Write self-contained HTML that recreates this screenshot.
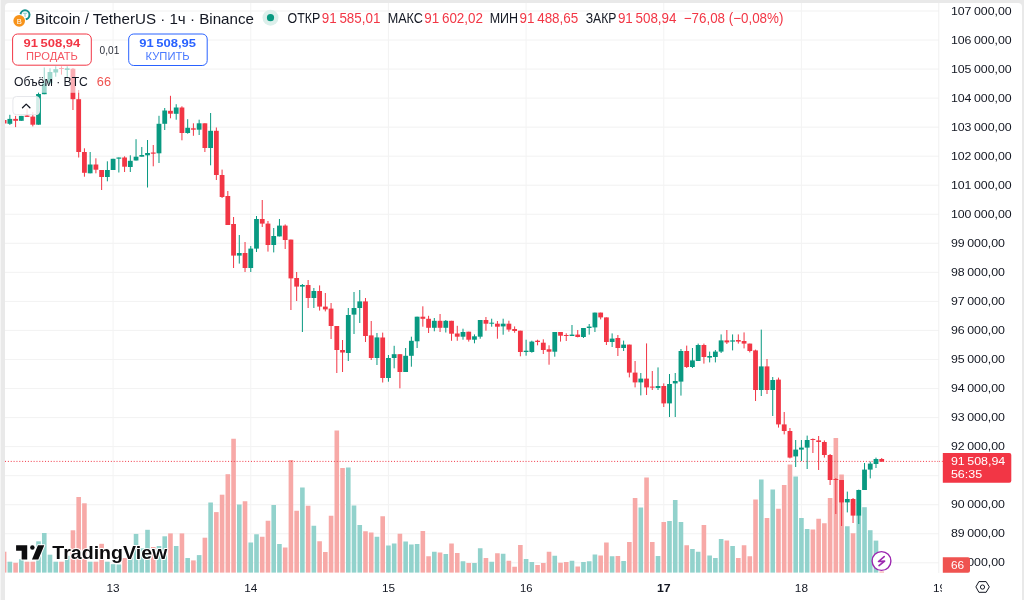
<!DOCTYPE html><html><head><meta charset="utf-8"><style>
html,body{margin:0;padding:0;width:1024px;height:600px;overflow:hidden;background:#e9e9e9;}
svg{position:absolute;left:0;top:0;display:block;will-change:transform}
text{font-family:"Liberation Sans",sans-serif;}
</style></head><body>
<svg width="1024" height="600" viewBox="0 0 1024 600">
<defs><clipPath id="pane"><rect x="5" y="3" width="934" height="570"/></clipPath><clipPath id="taxis"><rect x="5" y="573" width="934" height="27"/></clipPath></defs>
<rect x="0" y="0" width="1" height="600" fill="#f5f5f5"/>
<path d="M5,7 a4,4 0 0 1 4,-4 H1018 a4,4 0 0 1 4,4 V600 H5 Z" fill="#fff"/>
<g clip-path="url(#pane)">
<rect x="5" y="562.21" width="934" height="1.1" fill="#f3f3f3"/>
<rect x="5" y="533.17" width="934" height="1.1" fill="#f3f3f3"/>
<rect x="5" y="504.13" width="934" height="1.1" fill="#f3f3f3"/>
<rect x="5" y="475.09" width="934" height="1.1" fill="#f3f3f3"/>
<rect x="5" y="446.05" width="934" height="1.1" fill="#f3f3f3"/>
<rect x="5" y="417.01" width="934" height="1.1" fill="#f3f3f3"/>
<rect x="5" y="387.97" width="934" height="1.1" fill="#f3f3f3"/>
<rect x="5" y="358.93" width="934" height="1.1" fill="#f3f3f3"/>
<rect x="5" y="329.89" width="934" height="1.1" fill="#f3f3f3"/>
<rect x="5" y="300.85" width="934" height="1.1" fill="#f3f3f3"/>
<rect x="5" y="271.81" width="934" height="1.1" fill="#f3f3f3"/>
<rect x="5" y="242.77" width="934" height="1.1" fill="#f3f3f3"/>
<rect x="5" y="213.73" width="934" height="1.1" fill="#f3f3f3"/>
<rect x="5" y="184.69" width="934" height="1.1" fill="#f3f3f3"/>
<rect x="5" y="155.65" width="934" height="1.1" fill="#f3f3f3"/>
<rect x="5" y="126.61" width="934" height="1.1" fill="#f3f3f3"/>
<rect x="5" y="97.57" width="934" height="1.1" fill="#f3f3f3"/>
<rect x="5" y="68.53" width="934" height="1.1" fill="#f3f3f3"/>
<rect x="5" y="39.49" width="934" height="1.1" fill="#f3f3f3"/>
<rect x="5" y="10.45" width="934" height="1.1" fill="#f3f3f3"/>
<rect x="112.60" y="3" width="1" height="570" fill="#f3f3f3"/>
<rect x="250.26" y="3" width="1" height="570" fill="#f3f3f3"/>
<rect x="387.92" y="3" width="1" height="570" fill="#f3f3f3"/>
<rect x="525.58" y="3" width="1" height="570" fill="#f3f3f3"/>
<rect x="663.24" y="3" width="1" height="570" fill="#f3f3f3"/>
<rect x="800.90" y="3" width="1" height="570" fill="#f3f3f3"/>
<rect x="1.82" y="551.70" width="4.6" height="20.90" fill="#f7a9a7"/>
<rect x="7.55" y="561.70" width="4.6" height="10.90" fill="#92d2cc"/>
<rect x="13.29" y="562.80" width="4.6" height="9.80" fill="#f7a9a7"/>
<rect x="19.02" y="559.20" width="4.6" height="13.40" fill="#92d2cc"/>
<rect x="24.76" y="561.70" width="4.6" height="10.90" fill="#f7a9a7"/>
<rect x="30.50" y="561.70" width="4.6" height="10.90" fill="#f7a9a7"/>
<rect x="36.23" y="541.30" width="4.6" height="31.30" fill="#92d2cc"/>
<rect x="41.97" y="533.00" width="4.6" height="39.60" fill="#92d2cc"/>
<rect x="47.70" y="554.70" width="4.6" height="17.90" fill="#92d2cc"/>
<rect x="53.44" y="561.70" width="4.6" height="10.90" fill="#92d2cc"/>
<rect x="59.18" y="561.70" width="4.6" height="10.90" fill="#f7a9a7"/>
<rect x="64.91" y="555.80" width="4.6" height="16.80" fill="#92d2cc"/>
<rect x="70.65" y="530.30" width="4.6" height="42.30" fill="#f7a9a7"/>
<rect x="76.38" y="497.00" width="4.6" height="75.60" fill="#f7a9a7"/>
<rect x="82.12" y="503.30" width="4.6" height="69.30" fill="#f7a9a7"/>
<rect x="87.86" y="561.70" width="4.6" height="10.90" fill="#92d2cc"/>
<rect x="93.59" y="561.70" width="4.6" height="10.90" fill="#f7a9a7"/>
<rect x="99.33" y="543.80" width="4.6" height="28.80" fill="#f7a9a7"/>
<rect x="105.06" y="561.70" width="4.6" height="10.90" fill="#92d2cc"/>
<rect x="110.80" y="564.20" width="4.6" height="8.40" fill="#92d2cc"/>
<rect x="116.54" y="564.50" width="4.6" height="8.10" fill="#92d2cc"/>
<rect x="122.27" y="558.00" width="4.6" height="14.60" fill="#f7a9a7"/>
<rect x="128.01" y="553.20" width="4.6" height="19.40" fill="#92d2cc"/>
<rect x="133.74" y="533.90" width="4.6" height="38.70" fill="#92d2cc"/>
<rect x="139.48" y="548.40" width="4.6" height="24.20" fill="#92d2cc"/>
<rect x="145.22" y="529.80" width="4.6" height="42.80" fill="#92d2cc"/>
<rect x="150.95" y="547.00" width="4.6" height="25.60" fill="#f7a9a7"/>
<rect x="156.69" y="546.00" width="4.6" height="26.60" fill="#92d2cc"/>
<rect x="162.42" y="536.30" width="4.6" height="36.30" fill="#92d2cc"/>
<rect x="168.16" y="533.40" width="4.6" height="39.20" fill="#f7a9a7"/>
<rect x="173.90" y="546.00" width="4.6" height="26.60" fill="#92d2cc"/>
<rect x="179.63" y="533.40" width="4.6" height="39.20" fill="#f7a9a7"/>
<rect x="185.37" y="558.00" width="4.6" height="14.60" fill="#92d2cc"/>
<rect x="191.10" y="560.40" width="4.6" height="12.20" fill="#f7a9a7"/>
<rect x="196.84" y="555.10" width="4.6" height="17.50" fill="#92d2cc"/>
<rect x="202.58" y="537.70" width="4.6" height="34.90" fill="#f7a9a7"/>
<rect x="208.31" y="502.50" width="4.6" height="70.10" fill="#92d2cc"/>
<rect x="214.05" y="512.10" width="4.6" height="60.50" fill="#f7a9a7"/>
<rect x="219.78" y="494.70" width="4.6" height="77.90" fill="#f7a9a7"/>
<rect x="225.52" y="474.20" width="4.6" height="98.40" fill="#f7a9a7"/>
<rect x="231.26" y="438.75" width="4.6" height="133.85" fill="#f7a9a7"/>
<rect x="236.99" y="504.50" width="4.6" height="68.10" fill="#92d2cc"/>
<rect x="242.73" y="501.25" width="4.6" height="71.35" fill="#f7a9a7"/>
<rect x="248.46" y="542.50" width="4.6" height="30.10" fill="#92d2cc"/>
<rect x="254.20" y="534.25" width="4.6" height="38.35" fill="#92d2cc"/>
<rect x="259.94" y="536.75" width="4.6" height="35.85" fill="#f7a9a7"/>
<rect x="265.67" y="520.75" width="4.6" height="51.85" fill="#f7a9a7"/>
<rect x="271.41" y="505.00" width="4.6" height="67.60" fill="#92d2cc"/>
<rect x="277.14" y="544.00" width="4.6" height="28.60" fill="#92d2cc"/>
<rect x="282.88" y="547.50" width="4.6" height="25.10" fill="#f7a9a7"/>
<rect x="288.62" y="460.00" width="4.6" height="112.60" fill="#f7a9a7"/>
<rect x="294.35" y="510.75" width="4.6" height="61.85" fill="#f7a9a7"/>
<rect x="300.09" y="487.50" width="4.6" height="85.10" fill="#92d2cc"/>
<rect x="305.82" y="505.75" width="4.6" height="66.85" fill="#f7a9a7"/>
<rect x="311.56" y="525.75" width="4.6" height="46.85" fill="#92d2cc"/>
<rect x="317.30" y="541.25" width="4.6" height="31.35" fill="#f7a9a7"/>
<rect x="323.03" y="552.00" width="4.6" height="20.60" fill="#f7a9a7"/>
<rect x="328.77" y="515.75" width="4.6" height="56.85" fill="#f7a9a7"/>
<rect x="334.50" y="430.50" width="4.6" height="142.10" fill="#f7a9a7"/>
<rect x="340.24" y="468.00" width="4.6" height="104.60" fill="#f7a9a7"/>
<rect x="345.98" y="467.50" width="4.6" height="105.10" fill="#92d2cc"/>
<rect x="351.71" y="505.50" width="4.6" height="67.10" fill="#92d2cc"/>
<rect x="357.45" y="525.00" width="4.6" height="47.60" fill="#92d2cc"/>
<rect x="363.18" y="531.25" width="4.6" height="41.35" fill="#f7a9a7"/>
<rect x="368.92" y="532.50" width="4.6" height="40.10" fill="#f7a9a7"/>
<rect x="374.66" y="536.75" width="4.6" height="35.85" fill="#92d2cc"/>
<rect x="380.39" y="516.25" width="4.6" height="56.35" fill="#f7a9a7"/>
<rect x="386.13" y="545.50" width="4.6" height="27.10" fill="#92d2cc"/>
<rect x="391.86" y="543.50" width="4.6" height="29.10" fill="#92d2cc"/>
<rect x="397.60" y="533.75" width="4.6" height="38.85" fill="#f7a9a7"/>
<rect x="403.34" y="541.50" width="4.6" height="31.10" fill="#92d2cc"/>
<rect x="409.07" y="544.50" width="4.6" height="28.10" fill="#92d2cc"/>
<rect x="414.81" y="544.00" width="4.6" height="28.60" fill="#92d2cc"/>
<rect x="420.54" y="531.00" width="4.6" height="41.60" fill="#f7a9a7"/>
<rect x="426.28" y="556.25" width="4.6" height="16.35" fill="#f7a9a7"/>
<rect x="432.02" y="551.75" width="4.6" height="20.85" fill="#92d2cc"/>
<rect x="437.75" y="552.50" width="4.6" height="20.10" fill="#f7a9a7"/>
<rect x="443.49" y="554.00" width="4.6" height="18.60" fill="#92d2cc"/>
<rect x="449.22" y="543.50" width="4.6" height="29.10" fill="#f7a9a7"/>
<rect x="454.96" y="553.00" width="4.6" height="19.60" fill="#f7a9a7"/>
<rect x="460.70" y="561.25" width="4.6" height="11.35" fill="#92d2cc"/>
<rect x="466.43" y="563.00" width="4.6" height="9.60" fill="#f7a9a7"/>
<rect x="472.17" y="563.00" width="4.6" height="9.60" fill="#92d2cc"/>
<rect x="477.90" y="548.25" width="4.6" height="24.35" fill="#92d2cc"/>
<rect x="483.64" y="558.00" width="4.6" height="14.60" fill="#f7a9a7"/>
<rect x="489.38" y="561.75" width="4.6" height="10.85" fill="#92d2cc"/>
<rect x="495.11" y="553.25" width="4.6" height="19.35" fill="#f7a9a7"/>
<rect x="500.85" y="553.75" width="4.6" height="18.85" fill="#92d2cc"/>
<rect x="506.58" y="560.75" width="4.6" height="11.85" fill="#f7a9a7"/>
<rect x="512.32" y="566.75" width="4.6" height="5.85" fill="#f7a9a7"/>
<rect x="518.06" y="545.00" width="4.6" height="27.60" fill="#f7a9a7"/>
<rect x="523.79" y="559.00" width="4.6" height="13.60" fill="#92d2cc"/>
<rect x="529.53" y="562.00" width="4.6" height="10.60" fill="#92d2cc"/>
<rect x="535.26" y="565.00" width="4.6" height="7.60" fill="#f7a9a7"/>
<rect x="541.00" y="563.00" width="4.6" height="9.60" fill="#f7a9a7"/>
<rect x="546.74" y="551.75" width="4.6" height="20.85" fill="#f7a9a7"/>
<rect x="552.47" y="555.75" width="4.6" height="16.85" fill="#92d2cc"/>
<rect x="558.21" y="562.75" width="4.6" height="9.85" fill="#f7a9a7"/>
<rect x="563.94" y="562.00" width="4.6" height="10.60" fill="#f7a9a7"/>
<rect x="569.68" y="560.75" width="4.6" height="11.85" fill="#92d2cc"/>
<rect x="575.42" y="566.50" width="4.6" height="6.10" fill="#f7a9a7"/>
<rect x="581.15" y="562.00" width="4.6" height="10.60" fill="#92d2cc"/>
<rect x="586.89" y="561.25" width="4.6" height="11.35" fill="#92d2cc"/>
<rect x="592.62" y="554.50" width="4.6" height="18.10" fill="#92d2cc"/>
<rect x="598.36" y="555.50" width="4.6" height="17.10" fill="#f7a9a7"/>
<rect x="604.10" y="542.50" width="4.6" height="30.10" fill="#f7a9a7"/>
<rect x="609.83" y="556.25" width="4.6" height="16.35" fill="#92d2cc"/>
<rect x="615.57" y="556.00" width="4.6" height="16.60" fill="#f7a9a7"/>
<rect x="621.30" y="561.00" width="4.6" height="11.60" fill="#92d2cc"/>
<rect x="627.04" y="542.00" width="4.6" height="30.60" fill="#f7a9a7"/>
<rect x="632.78" y="498.00" width="4.6" height="74.60" fill="#f7a9a7"/>
<rect x="638.51" y="507.50" width="4.6" height="65.10" fill="#92d2cc"/>
<rect x="644.25" y="477.50" width="4.6" height="95.10" fill="#f7a9a7"/>
<rect x="649.98" y="542.00" width="4.6" height="30.60" fill="#f7a9a7"/>
<rect x="655.72" y="556.00" width="4.6" height="16.60" fill="#92d2cc"/>
<rect x="661.46" y="522.00" width="4.6" height="50.60" fill="#f7a9a7"/>
<rect x="667.19" y="521.00" width="4.6" height="51.60" fill="#92d2cc"/>
<rect x="672.93" y="500.00" width="4.6" height="72.60" fill="#92d2cc"/>
<rect x="678.66" y="522.00" width="4.6" height="50.60" fill="#92d2cc"/>
<rect x="684.40" y="545.25" width="4.6" height="27.35" fill="#f7a9a7"/>
<rect x="690.14" y="549.00" width="4.6" height="23.60" fill="#92d2cc"/>
<rect x="695.87" y="551.75" width="4.6" height="20.85" fill="#92d2cc"/>
<rect x="701.61" y="525.00" width="4.6" height="47.60" fill="#f7a9a7"/>
<rect x="707.34" y="555.50" width="4.6" height="17.10" fill="#92d2cc"/>
<rect x="713.08" y="558.00" width="4.6" height="14.60" fill="#92d2cc"/>
<rect x="718.82" y="539.00" width="4.6" height="33.60" fill="#92d2cc"/>
<rect x="724.55" y="540.50" width="4.6" height="32.10" fill="#f7a9a7"/>
<rect x="730.29" y="546.00" width="4.6" height="26.60" fill="#92d2cc"/>
<rect x="736.02" y="558.00" width="4.6" height="14.60" fill="#f7a9a7"/>
<rect x="741.76" y="545.25" width="4.6" height="27.35" fill="#f7a9a7"/>
<rect x="747.50" y="556.25" width="4.6" height="16.35" fill="#f7a9a7"/>
<rect x="753.23" y="499.50" width="4.6" height="73.10" fill="#f7a9a7"/>
<rect x="758.97" y="479.50" width="4.6" height="93.10" fill="#92d2cc"/>
<rect x="764.70" y="518.00" width="4.6" height="54.60" fill="#f7a9a7"/>
<rect x="770.44" y="489.50" width="4.6" height="83.10" fill="#92d2cc"/>
<rect x="776.18" y="508.75" width="4.6" height="63.85" fill="#f7a9a7"/>
<rect x="781.91" y="485.00" width="4.6" height="87.60" fill="#f7a9a7"/>
<rect x="787.65" y="464.50" width="4.6" height="108.10" fill="#f7a9a7"/>
<rect x="793.38" y="476.50" width="4.6" height="96.10" fill="#92d2cc"/>
<rect x="799.12" y="518.00" width="4.6" height="54.60" fill="#92d2cc"/>
<rect x="804.86" y="529.00" width="4.6" height="43.60" fill="#92d2cc"/>
<rect x="810.59" y="529.50" width="4.6" height="43.10" fill="#f7a9a7"/>
<rect x="816.33" y="518.75" width="4.6" height="53.85" fill="#f7a9a7"/>
<rect x="822.06" y="523.25" width="4.6" height="49.35" fill="#f7a9a7"/>
<rect x="827.80" y="498.00" width="4.6" height="74.60" fill="#f7a9a7"/>
<rect x="833.54" y="438.00" width="4.6" height="134.60" fill="#f7a9a7"/>
<rect x="839.27" y="474.50" width="4.6" height="98.10" fill="#f7a9a7"/>
<rect x="845.01" y="526.25" width="4.6" height="46.35" fill="#92d2cc"/>
<rect x="850.74" y="533.25" width="4.6" height="39.35" fill="#f7a9a7"/>
<rect x="856.48" y="515.00" width="4.6" height="57.60" fill="#92d2cc"/>
<rect x="862.22" y="507.20" width="4.6" height="65.40" fill="#92d2cc"/>
<rect x="867.95" y="530.20" width="4.6" height="42.40" fill="#92d2cc"/>
<rect x="873.69" y="540.60" width="4.6" height="32.00" fill="#92d2cc"/>
<rect x="879.42" y="571.50" width="4.6" height="1.10" fill="#f7a9a7"/>
<line x1="5" y1="461.4" x2="939" y2="461.4" stroke="#f23645" stroke-width="1" stroke-dasharray="1 1.86"/>
<rect x="3.62" y="119.00" width="1.0" height="5.00" fill="#f23645"/>
<rect x="1.72" y="120.00" width="4.8" height="3.50" fill="#f23645"/>
<rect x="9.35" y="114.80" width="1.0" height="10.10" fill="#089981"/>
<rect x="7.45" y="118.90" width="4.8" height="4.90" fill="#089981"/>
<rect x="15.09" y="115.90" width="1.0" height="11.20" fill="#f23645"/>
<rect x="13.19" y="118.90" width="4.8" height="1.90" fill="#f23645"/>
<rect x="20.82" y="115.90" width="1.0" height="4.90" fill="#089981"/>
<rect x="18.92" y="115.90" width="4.8" height="4.90" fill="#089981"/>
<rect x="26.56" y="108.80" width="1.0" height="8.10" fill="#f23645"/>
<rect x="24.66" y="115.50" width="4.8" height="1.40" fill="#f23645"/>
<rect x="32.30" y="112.10" width="1.0" height="14.30" fill="#f23645"/>
<rect x="30.40" y="116.60" width="4.8" height="8.10" fill="#f23645"/>
<rect x="38.03" y="92.30" width="1.0" height="32.40" fill="#089981"/>
<rect x="36.13" y="94.00" width="4.8" height="30.70" fill="#089981"/>
<rect x="43.77" y="67.50" width="1.0" height="26.70" fill="#089981"/>
<rect x="41.87" y="83.30" width="4.8" height="10.90" fill="#089981"/>
<rect x="49.50" y="68.30" width="1.0" height="15.00" fill="#089981"/>
<rect x="47.60" y="72.00" width="4.8" height="11.30" fill="#089981"/>
<rect x="55.24" y="66.30" width="1.0" height="10.40" fill="#089981"/>
<rect x="53.34" y="69.20" width="4.8" height="3.30" fill="#089981"/>
<rect x="60.98" y="66.30" width="1.0" height="8.30" fill="#f23645"/>
<rect x="59.08" y="68.00" width="4.8" height="1.00" fill="#f23645"/>
<rect x="66.71" y="66.30" width="1.0" height="12.00" fill="#089981"/>
<rect x="64.81" y="68.30" width="4.8" height="1.70" fill="#089981"/>
<rect x="72.45" y="68.00" width="1.0" height="42.00" fill="#f23645"/>
<rect x="70.55" y="68.75" width="4.8" height="30.45" fill="#f23645"/>
<rect x="78.18" y="90.00" width="1.0" height="67.50" fill="#f23645"/>
<rect x="76.28" y="99.20" width="4.8" height="52.80" fill="#f23645"/>
<rect x="83.92" y="148.30" width="1.0" height="28.40" fill="#f23645"/>
<rect x="82.02" y="152.00" width="4.8" height="20.80" fill="#f23645"/>
<rect x="89.66" y="152.00" width="1.0" height="21.30" fill="#089981"/>
<rect x="87.76" y="164.50" width="4.8" height="8.80" fill="#089981"/>
<rect x="95.39" y="158.30" width="1.0" height="15.00" fill="#f23645"/>
<rect x="93.49" y="164.50" width="4.8" height="5.20" fill="#f23645"/>
<rect x="101.13" y="170.00" width="1.0" height="20.00" fill="#f23645"/>
<rect x="99.23" y="170.00" width="4.8" height="7.00" fill="#f23645"/>
<rect x="106.86" y="161.30" width="1.0" height="20.00" fill="#089981"/>
<rect x="104.96" y="170.00" width="4.8" height="7.00" fill="#089981"/>
<rect x="112.60" y="158.80" width="1.0" height="11.20" fill="#089981"/>
<rect x="110.70" y="158.80" width="4.8" height="11.20" fill="#089981"/>
<rect x="118.34" y="157.50" width="1.0" height="15.00" fill="#089981"/>
<rect x="116.44" y="157.50" width="4.8" height="1.20" fill="#089981"/>
<rect x="124.07" y="156.30" width="1.0" height="15.70" fill="#f23645"/>
<rect x="122.17" y="157.50" width="4.8" height="9.20" fill="#f23645"/>
<rect x="129.81" y="155.30" width="1.0" height="16.70" fill="#089981"/>
<rect x="127.91" y="160.80" width="4.8" height="6.20" fill="#089981"/>
<rect x="135.54" y="139.20" width="1.0" height="21.30" fill="#089981"/>
<rect x="133.64" y="156.70" width="4.8" height="3.80" fill="#089981"/>
<rect x="141.28" y="147.00" width="1.0" height="9.70" fill="#089981"/>
<rect x="139.38" y="155.00" width="4.8" height="1.70" fill="#089981"/>
<rect x="147.02" y="140.00" width="1.0" height="47.50" fill="#089981"/>
<rect x="145.12" y="153.00" width="4.8" height="2.30" fill="#089981"/>
<rect x="152.75" y="145.00" width="1.0" height="21.30" fill="#f23645"/>
<rect x="150.85" y="152.50" width="4.8" height="1.20" fill="#f23645"/>
<rect x="158.49" y="115.80" width="1.0" height="47.20" fill="#089981"/>
<rect x="156.59" y="123.80" width="4.8" height="29.50" fill="#089981"/>
<rect x="164.22" y="108.00" width="1.0" height="22.00" fill="#089981"/>
<rect x="162.32" y="110.50" width="4.8" height="13.30" fill="#089981"/>
<rect x="169.96" y="95.80" width="1.0" height="22.50" fill="#f23645"/>
<rect x="168.06" y="110.80" width="4.8" height="2.90" fill="#f23645"/>
<rect x="175.70" y="104.20" width="1.0" height="15.50" fill="#089981"/>
<rect x="173.80" y="107.50" width="4.8" height="6.30" fill="#089981"/>
<rect x="181.43" y="106.30" width="1.0" height="34.00" fill="#f23645"/>
<rect x="179.53" y="107.50" width="4.8" height="25.50" fill="#f23645"/>
<rect x="187.17" y="119.20" width="1.0" height="14.50" fill="#089981"/>
<rect x="185.27" y="127.80" width="4.8" height="5.20" fill="#089981"/>
<rect x="192.90" y="123.30" width="1.0" height="12.50" fill="#f23645"/>
<rect x="191.00" y="128.30" width="4.8" height="1.40" fill="#f23645"/>
<rect x="198.64" y="119.70" width="1.0" height="15.30" fill="#089981"/>
<rect x="196.74" y="123.30" width="4.8" height="6.40" fill="#089981"/>
<rect x="204.38" y="123.30" width="1.0" height="28.70" fill="#f23645"/>
<rect x="202.48" y="123.30" width="4.8" height="24.70" fill="#f23645"/>
<rect x="210.11" y="113.00" width="1.0" height="52.30" fill="#089981"/>
<rect x="208.21" y="130.80" width="4.8" height="17.20" fill="#089981"/>
<rect x="215.85" y="127.50" width="1.0" height="52.50" fill="#f23645"/>
<rect x="213.95" y="130.80" width="4.8" height="44.20" fill="#f23645"/>
<rect x="221.58" y="169.60" width="1.0" height="28.40" fill="#f23645"/>
<rect x="219.68" y="175.00" width="4.8" height="22.00" fill="#f23645"/>
<rect x="227.32" y="191.00" width="1.0" height="34.00" fill="#f23645"/>
<rect x="225.42" y="196.00" width="4.8" height="29.00" fill="#f23645"/>
<rect x="233.06" y="217.00" width="1.0" height="51.00" fill="#f23645"/>
<rect x="231.16" y="224.00" width="4.8" height="31.60" fill="#f23645"/>
<rect x="238.79" y="235.00" width="1.0" height="28.60" fill="#089981"/>
<rect x="236.89" y="253.00" width="4.8" height="2.60" fill="#089981"/>
<rect x="244.53" y="242.00" width="1.0" height="30.00" fill="#f23645"/>
<rect x="242.63" y="253.00" width="4.8" height="15.00" fill="#f23645"/>
<rect x="250.26" y="246.00" width="1.0" height="26.00" fill="#089981"/>
<rect x="248.36" y="248.60" width="4.8" height="19.40" fill="#089981"/>
<rect x="256.00" y="216.00" width="1.0" height="36.00" fill="#089981"/>
<rect x="254.10" y="219.00" width="4.8" height="29.60" fill="#089981"/>
<rect x="261.74" y="200.00" width="1.0" height="27.00" fill="#f23645"/>
<rect x="259.84" y="219.00" width="4.8" height="4.60" fill="#f23645"/>
<rect x="267.47" y="221.00" width="1.0" height="30.60" fill="#f23645"/>
<rect x="265.57" y="223.60" width="4.8" height="21.40" fill="#f23645"/>
<rect x="273.21" y="228.00" width="1.0" height="24.40" fill="#089981"/>
<rect x="271.31" y="236.00" width="4.8" height="9.00" fill="#089981"/>
<rect x="278.94" y="219.00" width="1.0" height="17.40" fill="#089981"/>
<rect x="277.04" y="225.60" width="4.8" height="10.80" fill="#089981"/>
<rect x="284.68" y="224.40" width="1.0" height="24.60" fill="#f23645"/>
<rect x="282.78" y="225.60" width="4.8" height="14.40" fill="#f23645"/>
<rect x="290.42" y="239.60" width="1.0" height="70.40" fill="#f23645"/>
<rect x="288.52" y="239.60" width="4.8" height="38.80" fill="#f23645"/>
<rect x="296.15" y="272.00" width="1.0" height="29.00" fill="#f23645"/>
<rect x="294.25" y="278.00" width="4.8" height="8.60" fill="#f23645"/>
<rect x="301.89" y="284.00" width="1.0" height="48.00" fill="#089981"/>
<rect x="299.99" y="285.00" width="4.8" height="1.60" fill="#089981"/>
<rect x="307.62" y="280.00" width="1.0" height="28.00" fill="#f23645"/>
<rect x="305.72" y="285.00" width="4.8" height="13.00" fill="#f23645"/>
<rect x="313.36" y="288.00" width="1.0" height="20.00" fill="#089981"/>
<rect x="311.46" y="291.00" width="4.8" height="7.00" fill="#089981"/>
<rect x="319.10" y="285.40" width="1.0" height="25.20" fill="#f23645"/>
<rect x="317.20" y="291.00" width="4.8" height="15.60" fill="#f23645"/>
<rect x="324.83" y="293.00" width="1.0" height="18.40" fill="#f23645"/>
<rect x="322.93" y="306.60" width="4.8" height="2.80" fill="#f23645"/>
<rect x="330.57" y="303.00" width="1.0" height="36.00" fill="#f23645"/>
<rect x="328.67" y="308.60" width="4.8" height="17.40" fill="#f23645"/>
<rect x="336.30" y="326.00" width="1.0" height="47.00" fill="#f23645"/>
<rect x="334.40" y="326.00" width="4.8" height="24.00" fill="#f23645"/>
<rect x="342.04" y="340.00" width="1.0" height="32.00" fill="#f23645"/>
<rect x="340.14" y="350.00" width="4.8" height="2.50" fill="#f23645"/>
<rect x="347.78" y="308.00" width="1.0" height="53.00" fill="#089981"/>
<rect x="345.88" y="315.00" width="4.8" height="38.00" fill="#089981"/>
<rect x="353.51" y="292.00" width="1.0" height="42.00" fill="#089981"/>
<rect x="351.61" y="308.00" width="4.8" height="6.60" fill="#089981"/>
<rect x="359.25" y="290.00" width="1.0" height="33.00" fill="#089981"/>
<rect x="357.35" y="301.40" width="4.8" height="6.60" fill="#089981"/>
<rect x="364.98" y="298.00" width="1.0" height="44.00" fill="#f23645"/>
<rect x="363.08" y="301.40" width="4.8" height="34.60" fill="#f23645"/>
<rect x="370.72" y="321.00" width="1.0" height="39.00" fill="#f23645"/>
<rect x="368.82" y="335.40" width="4.8" height="22.60" fill="#f23645"/>
<rect x="376.46" y="333.00" width="1.0" height="32.00" fill="#089981"/>
<rect x="374.56" y="337.40" width="4.8" height="20.60" fill="#089981"/>
<rect x="382.19" y="332.60" width="1.0" height="49.90" fill="#f23645"/>
<rect x="380.29" y="337.50" width="4.8" height="40.50" fill="#f23645"/>
<rect x="387.93" y="355.00" width="1.0" height="26.70" fill="#089981"/>
<rect x="386.03" y="358.00" width="4.8" height="20.00" fill="#089981"/>
<rect x="393.66" y="345.80" width="1.0" height="22.50" fill="#089981"/>
<rect x="391.76" y="354.20" width="4.8" height="3.80" fill="#089981"/>
<rect x="399.40" y="354.20" width="1.0" height="34.10" fill="#f23645"/>
<rect x="397.50" y="354.20" width="4.8" height="17.80" fill="#f23645"/>
<rect x="405.14" y="348.00" width="1.0" height="24.00" fill="#089981"/>
<rect x="403.24" y="355.80" width="4.8" height="16.20" fill="#089981"/>
<rect x="410.87" y="336.70" width="1.0" height="30.00" fill="#089981"/>
<rect x="408.97" y="340.80" width="4.8" height="15.00" fill="#089981"/>
<rect x="416.61" y="316.70" width="1.0" height="31.30" fill="#089981"/>
<rect x="414.71" y="316.70" width="4.8" height="24.60" fill="#089981"/>
<rect x="422.34" y="306.30" width="1.0" height="20.40" fill="#f23645"/>
<rect x="420.44" y="316.70" width="4.8" height="2.10" fill="#f23645"/>
<rect x="428.08" y="315.80" width="1.0" height="17.20" fill="#f23645"/>
<rect x="426.18" y="318.80" width="4.8" height="9.00" fill="#f23645"/>
<rect x="433.82" y="318.00" width="1.0" height="13.30" fill="#089981"/>
<rect x="431.92" y="320.80" width="4.8" height="7.00" fill="#089981"/>
<rect x="439.55" y="314.00" width="1.0" height="18.00" fill="#f23645"/>
<rect x="437.65" y="320.80" width="4.8" height="7.00" fill="#f23645"/>
<rect x="445.29" y="320.00" width="1.0" height="12.50" fill="#089981"/>
<rect x="443.39" y="320.80" width="4.8" height="7.00" fill="#089981"/>
<rect x="451.02" y="320.80" width="1.0" height="20.00" fill="#f23645"/>
<rect x="449.12" y="320.80" width="4.8" height="12.90" fill="#f23645"/>
<rect x="456.76" y="325.80" width="1.0" height="15.00" fill="#f23645"/>
<rect x="454.86" y="333.50" width="4.8" height="3.20" fill="#f23645"/>
<rect x="462.50" y="328.70" width="1.0" height="11.00" fill="#089981"/>
<rect x="460.60" y="332.00" width="4.8" height="4.70" fill="#089981"/>
<rect x="468.23" y="331.70" width="1.0" height="9.90" fill="#f23645"/>
<rect x="466.33" y="331.70" width="4.8" height="8.00" fill="#f23645"/>
<rect x="473.97" y="334.40" width="1.0" height="8.90" fill="#089981"/>
<rect x="472.07" y="336.30" width="4.8" height="3.40" fill="#089981"/>
<rect x="479.70" y="320.00" width="1.0" height="18.70" fill="#089981"/>
<rect x="477.80" y="320.00" width="4.8" height="16.70" fill="#089981"/>
<rect x="485.44" y="317.00" width="1.0" height="13.70" fill="#f23645"/>
<rect x="483.54" y="320.00" width="4.8" height="3.70" fill="#f23645"/>
<rect x="491.18" y="318.70" width="1.0" height="8.00" fill="#089981"/>
<rect x="489.28" y="322.70" width="4.8" height="1.00" fill="#089981"/>
<rect x="496.91" y="321.00" width="1.0" height="17.70" fill="#f23645"/>
<rect x="495.01" y="323.70" width="4.8" height="3.00" fill="#f23645"/>
<rect x="502.65" y="318.70" width="1.0" height="16.00" fill="#089981"/>
<rect x="500.75" y="323.70" width="4.8" height="2.70" fill="#089981"/>
<rect x="508.38" y="320.70" width="1.0" height="11.00" fill="#f23645"/>
<rect x="506.48" y="323.70" width="4.8" height="5.90" fill="#f23645"/>
<rect x="514.12" y="326.40" width="1.0" height="6.30" fill="#f23645"/>
<rect x="512.22" y="329.00" width="4.8" height="2.00" fill="#f23645"/>
<rect x="519.86" y="330.70" width="1.0" height="25.60" fill="#f23645"/>
<rect x="517.96" y="330.70" width="4.8" height="21.30" fill="#f23645"/>
<rect x="525.59" y="339.70" width="1.0" height="16.00" fill="#089981"/>
<rect x="523.69" y="350.70" width="4.8" height="1.30" fill="#089981"/>
<rect x="531.33" y="340.70" width="1.0" height="12.00" fill="#089981"/>
<rect x="529.43" y="341.60" width="4.8" height="10.40" fill="#089981"/>
<rect x="537.06" y="339.70" width="1.0" height="5.60" fill="#f23645"/>
<rect x="535.16" y="340.70" width="4.8" height="1.30" fill="#f23645"/>
<rect x="542.80" y="339.30" width="1.0" height="14.70" fill="#f23645"/>
<rect x="540.90" y="342.70" width="4.8" height="7.30" fill="#f23645"/>
<rect x="548.54" y="345.30" width="1.0" height="19.40" fill="#f23645"/>
<rect x="546.64" y="349.30" width="4.8" height="2.40" fill="#f23645"/>
<rect x="554.27" y="332.00" width="1.0" height="24.70" fill="#089981"/>
<rect x="552.37" y="332.00" width="4.8" height="19.70" fill="#089981"/>
<rect x="560.01" y="332.00" width="1.0" height="9.60" fill="#f23645"/>
<rect x="558.11" y="332.00" width="4.8" height="3.70" fill="#f23645"/>
<rect x="565.74" y="333.30" width="1.0" height="7.70" fill="#f23645"/>
<rect x="563.84" y="335.00" width="4.8" height="1.00" fill="#f23645"/>
<rect x="571.48" y="325.00" width="1.0" height="11.00" fill="#089981"/>
<rect x="569.58" y="334.60" width="4.8" height="1.40" fill="#089981"/>
<rect x="577.22" y="330.00" width="1.0" height="7.40" fill="#f23645"/>
<rect x="575.32" y="334.60" width="4.8" height="2.40" fill="#f23645"/>
<rect x="582.95" y="328.00" width="1.0" height="10.00" fill="#089981"/>
<rect x="581.05" y="328.00" width="4.8" height="9.00" fill="#089981"/>
<rect x="588.69" y="324.00" width="1.0" height="10.60" fill="#089981"/>
<rect x="586.79" y="326.60" width="4.8" height="1.40" fill="#089981"/>
<rect x="594.42" y="312.60" width="1.0" height="19.40" fill="#089981"/>
<rect x="592.52" y="312.60" width="4.8" height="14.80" fill="#089981"/>
<rect x="600.16" y="312.60" width="1.0" height="6.80" fill="#f23645"/>
<rect x="598.26" y="312.60" width="4.8" height="4.80" fill="#f23645"/>
<rect x="605.90" y="317.40" width="1.0" height="27.60" fill="#f23645"/>
<rect x="604.00" y="317.40" width="4.8" height="24.60" fill="#f23645"/>
<rect x="611.63" y="333.40" width="1.0" height="13.60" fill="#089981"/>
<rect x="609.73" y="338.60" width="4.8" height="3.40" fill="#089981"/>
<rect x="617.37" y="335.00" width="1.0" height="21.00" fill="#f23645"/>
<rect x="615.47" y="338.00" width="4.8" height="10.00" fill="#f23645"/>
<rect x="623.10" y="340.60" width="1.0" height="10.40" fill="#089981"/>
<rect x="621.20" y="344.60" width="4.8" height="3.40" fill="#089981"/>
<rect x="628.84" y="344.60" width="1.0" height="32.80" fill="#f23645"/>
<rect x="626.94" y="344.60" width="4.8" height="28.00" fill="#f23645"/>
<rect x="634.58" y="361.00" width="1.0" height="26.40" fill="#f23645"/>
<rect x="632.68" y="372.60" width="4.8" height="9.80" fill="#f23645"/>
<rect x="640.31" y="373.00" width="1.0" height="22.40" fill="#089981"/>
<rect x="638.41" y="378.60" width="4.8" height="3.80" fill="#089981"/>
<rect x="646.05" y="343.40" width="1.0" height="51.60" fill="#f23645"/>
<rect x="644.15" y="378.60" width="4.8" height="8.80" fill="#f23645"/>
<rect x="651.78" y="371.00" width="1.0" height="19.00" fill="#f23645"/>
<rect x="649.88" y="386.60" width="4.8" height="1.00" fill="#f23645"/>
<rect x="657.52" y="367.40" width="1.0" height="22.60" fill="#089981"/>
<rect x="655.62" y="386.00" width="4.8" height="2.00" fill="#089981"/>
<rect x="663.26" y="383.40" width="1.0" height="23.60" fill="#f23645"/>
<rect x="661.36" y="386.00" width="4.8" height="17.40" fill="#f23645"/>
<rect x="668.99" y="374.00" width="1.0" height="43.00" fill="#089981"/>
<rect x="667.09" y="384.00" width="4.8" height="19.40" fill="#089981"/>
<rect x="674.73" y="373.00" width="1.0" height="44.00" fill="#089981"/>
<rect x="672.83" y="381.00" width="4.8" height="2.40" fill="#089981"/>
<rect x="680.46" y="349.00" width="1.0" height="46.60" fill="#089981"/>
<rect x="678.56" y="351.00" width="4.8" height="30.60" fill="#089981"/>
<rect x="686.20" y="345.60" width="1.0" height="22.40" fill="#f23645"/>
<rect x="684.30" y="351.00" width="4.8" height="16.00" fill="#f23645"/>
<rect x="691.94" y="348.00" width="1.0" height="20.00" fill="#089981"/>
<rect x="690.04" y="360.40" width="4.8" height="6.60" fill="#089981"/>
<rect x="697.67" y="343.60" width="1.0" height="17.40" fill="#089981"/>
<rect x="695.77" y="345.00" width="4.8" height="16.00" fill="#089981"/>
<rect x="703.41" y="343.60" width="1.0" height="20.00" fill="#f23645"/>
<rect x="701.51" y="345.00" width="4.8" height="12.00" fill="#f23645"/>
<rect x="709.14" y="351.60" width="1.0" height="10.80" fill="#089981"/>
<rect x="707.24" y="356.00" width="4.8" height="1.60" fill="#089981"/>
<rect x="714.88" y="350.00" width="1.0" height="12.40" fill="#089981"/>
<rect x="712.98" y="351.60" width="4.8" height="5.40" fill="#089981"/>
<rect x="720.62" y="334.40" width="1.0" height="18.60" fill="#089981"/>
<rect x="718.72" y="340.40" width="4.8" height="11.20" fill="#089981"/>
<rect x="726.35" y="330.00" width="1.0" height="14.00" fill="#f23645"/>
<rect x="724.45" y="340.40" width="4.8" height="2.00" fill="#f23645"/>
<rect x="732.09" y="334.40" width="1.0" height="16.00" fill="#089981"/>
<rect x="730.19" y="340.40" width="4.8" height="1.20" fill="#089981"/>
<rect x="737.82" y="334.40" width="1.0" height="9.20" fill="#f23645"/>
<rect x="735.92" y="340.00" width="4.8" height="1.60" fill="#f23645"/>
<rect x="743.56" y="332.40" width="1.0" height="16.00" fill="#f23645"/>
<rect x="741.66" y="341.00" width="4.8" height="2.60" fill="#f23645"/>
<rect x="749.30" y="343.60" width="1.0" height="8.80" fill="#f23645"/>
<rect x="747.40" y="343.60" width="4.8" height="7.40" fill="#f23645"/>
<rect x="755.03" y="349.60" width="1.0" height="51.40" fill="#f23645"/>
<rect x="753.13" y="350.40" width="4.8" height="39.60" fill="#f23645"/>
<rect x="760.77" y="329.60" width="1.0" height="66.40" fill="#089981"/>
<rect x="758.87" y="366.40" width="4.8" height="23.60" fill="#089981"/>
<rect x="766.50" y="359.00" width="1.0" height="35.00" fill="#f23645"/>
<rect x="764.60" y="366.40" width="4.8" height="23.60" fill="#f23645"/>
<rect x="772.24" y="377.00" width="1.0" height="39.00" fill="#089981"/>
<rect x="770.34" y="380.00" width="4.8" height="10.00" fill="#089981"/>
<rect x="777.98" y="377.60" width="1.0" height="50.00" fill="#f23645"/>
<rect x="776.08" y="379.60" width="4.8" height="44.80" fill="#f23645"/>
<rect x="783.71" y="412.00" width="1.0" height="22.40" fill="#f23645"/>
<rect x="781.81" y="424.40" width="4.8" height="6.60" fill="#f23645"/>
<rect x="789.45" y="428.00" width="1.0" height="30.40" fill="#f23645"/>
<rect x="787.55" y="431.00" width="4.8" height="26.60" fill="#f23645"/>
<rect x="795.18" y="440.00" width="1.0" height="27.00" fill="#089981"/>
<rect x="793.28" y="449.60" width="4.8" height="6.80" fill="#089981"/>
<rect x="800.92" y="440.00" width="1.0" height="21.00" fill="#089981"/>
<rect x="799.02" y="447.60" width="4.8" height="2.00" fill="#089981"/>
<rect x="806.66" y="435.60" width="1.0" height="33.40" fill="#089981"/>
<rect x="804.76" y="440.00" width="4.8" height="7.60" fill="#089981"/>
<rect x="812.39" y="438.40" width="1.0" height="14.60" fill="#f23645"/>
<rect x="810.49" y="439.00" width="4.8" height="1.00" fill="#f23645"/>
<rect x="818.13" y="436.00" width="1.0" height="34.00" fill="#f23645"/>
<rect x="816.23" y="440.40" width="4.8" height="1.60" fill="#f23645"/>
<rect x="823.86" y="440.40" width="1.0" height="17.20" fill="#f23645"/>
<rect x="821.96" y="442.00" width="4.8" height="13.00" fill="#f23645"/>
<rect x="829.60" y="454.00" width="1.0" height="31.00" fill="#f23645"/>
<rect x="827.70" y="455.00" width="4.8" height="25.00" fill="#f23645"/>
<rect x="835.34" y="478.00" width="1.0" height="36.00" fill="#f23645"/>
<rect x="833.44" y="479.00" width="4.8" height="1.00" fill="#f23645"/>
<rect x="841.07" y="480.00" width="1.0" height="46.00" fill="#f23645"/>
<rect x="839.17" y="480.00" width="4.8" height="22.40" fill="#f23645"/>
<rect x="846.81" y="491.60" width="1.0" height="20.80" fill="#089981"/>
<rect x="844.91" y="499.00" width="4.8" height="3.40" fill="#089981"/>
<rect x="852.54" y="498.00" width="1.0" height="25.00" fill="#f23645"/>
<rect x="850.64" y="499.00" width="4.8" height="16.60" fill="#f23645"/>
<rect x="858.28" y="489.60" width="1.0" height="34.40" fill="#089981"/>
<rect x="856.38" y="490.00" width="4.8" height="25.60" fill="#089981"/>
<rect x="864.02" y="463.00" width="1.0" height="27.00" fill="#089981"/>
<rect x="862.12" y="469.60" width="4.8" height="20.40" fill="#089981"/>
<rect x="869.75" y="461.60" width="1.0" height="16.80" fill="#089981"/>
<rect x="867.85" y="463.60" width="4.8" height="6.00" fill="#089981"/>
<rect x="875.49" y="457.60" width="1.0" height="10.40" fill="#089981"/>
<rect x="873.59" y="459.00" width="4.8" height="5.00" fill="#089981"/>
<rect x="881.22" y="458.00" width="1.0" height="3.70" fill="#f23645"/>
<rect x="879.32" y="459.00" width="4.8" height="2.70" fill="#f23645"/>
</g>
<line x1="939" y1="461.4" x2="942.8" y2="461.4" stroke="#f23645" stroke-width="1" stroke-dasharray="1 1.86"/>
<rect x="10" y="65.5" width="103" height="27.3" fill="#fff" fill-opacity="0.6"/>
<rect x="12.9" y="96.5" width="26.6" height="18.2" rx="3.5" fill="#fff" fill-opacity="0.82" stroke="#e6e7eb" stroke-width="1"/>
<path d="M22.5,107.7 L26.2,104.1 L29.9,107.7" fill="none" stroke="#131722" stroke-width="1.3" stroke-linecap="round" stroke-linejoin="round"/>
<circle cx="25" cy="14.8" r="5.5" fill="#128f8b"/>
<circle cx="25" cy="14.8" r="3.5" fill="#fff"/>
<path d="M22.9,13.3 H27.1 M25,13.3 V17.2" stroke="#8ccfcb" stroke-width="1.1" fill="none"/>
<circle cx="19.2" cy="20.8" r="6.9" fill="#fff"/>
<circle cx="19.2" cy="20.8" r="5.85" fill="#f7931a"/>
<text x="19.3" y="23.5" font-size="7.6" fill="#fff" text-anchor="middle">B</text>
<text x="35.1" y="23.7" font-size="14.5" fill="#131722" textLength="218.8" lengthAdjust="spacingAndGlyphs">Bitcoin / TetherUS · 1ч · Binance</text>
<circle cx="270.5" cy="17.7" r="8" fill="#dcefeb"/>
<circle cx="270.5" cy="17.7" r="3.6" fill="#089981"/>
<text x="287.5" y="23.4" font-size="14.3" fill="#131722" textLength="32.8" lengthAdjust="spacingAndGlyphs">ОТКР</text>
<text x="321.8" y="23.4" font-size="14.3" fill="#f23645" textLength="58.6" lengthAdjust="spacingAndGlyphs">91 585,01</text>
<text x="387.7" y="23.4" font-size="14.3" fill="#131722" textLength="35.2" lengthAdjust="spacingAndGlyphs">МАКС</text>
<text x="424.3" y="23.4" font-size="14.3" fill="#f23645" textLength="58.7" lengthAdjust="spacingAndGlyphs">91 602,02</text>
<text x="489.7" y="23.4" font-size="14.3" fill="#131722" textLength="28.4" lengthAdjust="spacingAndGlyphs">МИН</text>
<text x="519.5" y="23.4" font-size="14.3" fill="#f23645" textLength="58.8" lengthAdjust="spacingAndGlyphs">91 488,65</text>
<text x="585.7" y="23.4" font-size="14.3" fill="#131722" textLength="30.7" lengthAdjust="spacingAndGlyphs">ЗАКР</text>
<text x="617.9" y="23.4" font-size="14.3" fill="#f23645" textLength="58.6" lengthAdjust="spacingAndGlyphs">91 508,94</text>
<text x="683.8" y="23.4" font-size="14.3" fill="#f23645" textLength="99.6" lengthAdjust="spacingAndGlyphs">−76,08 (−0,08%)</text>
<rect x="12.6" y="34" width="78.7" height="31.2" rx="5" fill="#fff" stroke="#f23645" stroke-width="1"/>
<text x="23.5" y="47.3" font-size="11.4" fill="#f23645" font-weight="700" textLength="56.8" lengthAdjust="spacingAndGlyphs">91 508,94</text>
<text x="26.1" y="60.4" font-size="10.2" fill="#f23645" textLength="51.8" lengthAdjust="spacingAndGlyphs" fill-opacity="0.85">ПРОДАТЬ</text>
<text x="99.6" y="53.6" font-size="10.8" fill="#2a2e39" textLength="19.7" lengthAdjust="spacingAndGlyphs">0,01</text>
<rect x="128.7" y="34" width="78.5" height="31.5" rx="5" fill="#fff" stroke="#2962ff" stroke-width="1"/>
<text x="139.3" y="47.3" font-size="11.4" fill="#2962ff" font-weight="700" textLength="56.7" lengthAdjust="spacingAndGlyphs">91 508,95</text>
<text x="145.6" y="60.4" font-size="10.2" fill="#2962ff" textLength="44.1" lengthAdjust="spacingAndGlyphs" fill-opacity="0.85">КУПИТЬ</text>
<text x="14.1" y="86" font-size="12" fill="#131722" textLength="73.8" lengthAdjust="spacingAndGlyphs">Объём · BTC</text>
<text x="96.8" y="86" font-size="12" fill="#ef5350" textLength="14.2" lengthAdjust="spacingAndGlyphs">66</text>
<rect x="938.3" y="3" width="1" height="570" fill="#f0f0f0"/>
<text x="950.9" y="15.0" font-size="11.5" fill="#131722" textLength="60.8" lengthAdjust="spacingAndGlyphs">107 000,00</text>
<text x="950.9" y="44.01" font-size="11.5" fill="#131722" textLength="60.8" lengthAdjust="spacingAndGlyphs">106 000,00</text>
<text x="950.9" y="73.01" font-size="11.5" fill="#131722" textLength="60.8" lengthAdjust="spacingAndGlyphs">105 000,00</text>
<text x="950.9" y="102.02" font-size="11.5" fill="#131722" textLength="60.8" lengthAdjust="spacingAndGlyphs">104 000,00</text>
<text x="950.9" y="131.02" font-size="11.5" fill="#131722" textLength="60.8" lengthAdjust="spacingAndGlyphs">103 000,00</text>
<text x="950.9" y="160.03" font-size="11.5" fill="#131722" textLength="60.8" lengthAdjust="spacingAndGlyphs">102 000,00</text>
<text x="950.9" y="189.04" font-size="11.5" fill="#131722" textLength="60.8" lengthAdjust="spacingAndGlyphs">101 000,00</text>
<text x="950.9" y="218.04" font-size="11.5" fill="#131722" textLength="60.8" lengthAdjust="spacingAndGlyphs">100 000,00</text>
<text x="950.9" y="247.05" font-size="11.5" fill="#131722" textLength="54.1" lengthAdjust="spacingAndGlyphs">99 000,00</text>
<text x="950.9" y="276.05" font-size="11.5" fill="#131722" textLength="54.1" lengthAdjust="spacingAndGlyphs">98 000,00</text>
<text x="950.9" y="305.06" font-size="11.5" fill="#131722" textLength="54.1" lengthAdjust="spacingAndGlyphs">97 000,00</text>
<text x="950.9" y="334.07" font-size="11.5" fill="#131722" textLength="54.1" lengthAdjust="spacingAndGlyphs">96 000,00</text>
<text x="950.9" y="363.07" font-size="11.5" fill="#131722" textLength="54.1" lengthAdjust="spacingAndGlyphs">95 000,00</text>
<text x="950.9" y="392.08" font-size="11.5" fill="#131722" textLength="54.1" lengthAdjust="spacingAndGlyphs">94 000,00</text>
<text x="950.9" y="421.08" font-size="11.5" fill="#131722" textLength="54.1" lengthAdjust="spacingAndGlyphs">93 000,00</text>
<text x="950.9" y="450.09" font-size="11.5" fill="#131722" textLength="54.1" lengthAdjust="spacingAndGlyphs">92 000,00</text>
<text x="950.9" y="479.1" font-size="11.5" fill="#131722" textLength="54.1" lengthAdjust="spacingAndGlyphs">91 000,00</text>
<text x="950.9" y="508.1" font-size="11.5" fill="#131722" textLength="54.1" lengthAdjust="spacingAndGlyphs">90 000,00</text>
<text x="950.9" y="537.11" font-size="11.5" fill="#131722" textLength="54.1" lengthAdjust="spacingAndGlyphs">89 000,00</text>
<text x="950.9" y="566.11" font-size="11.5" fill="#131722" textLength="54.1" lengthAdjust="spacingAndGlyphs">88 000,00</text>
<path d="M942.8,453.1 H1009.3 a2,2 0 0 1 2,2 V480.7 a2,2 0 0 1 -2,2 H942.8 Z" fill="#f23645"/>
<text x="950.9" y="464.7" font-size="11.5" fill="#fff" textLength="54.4" lengthAdjust="spacingAndGlyphs">91 508,94</text>
<text x="950.9" y="477.7" font-size="11.5" fill="#fff" textLength="31.3" lengthAdjust="spacingAndGlyphs">56:35</text>
<path d="M942.8,557.2 H968 a2,2 0 0 1 2,2 V570.7 a2,2 0 0 1 -2,2 H942.8 Z" fill="#ef5350"/>
<text x="951" y="568.8" font-size="11.5" fill="#fff" textLength="13.2" lengthAdjust="spacingAndGlyphs">66</text>
<text x="106.55" y="591.5" font-size="11.5" fill="#131722" textLength="13.1" lengthAdjust="spacingAndGlyphs">13</text>
<text x="244.25" y="591.5" font-size="11.5" fill="#131722" textLength="13.1" lengthAdjust="spacingAndGlyphs">14</text>
<text x="381.95" y="591.5" font-size="11.5" fill="#131722" textLength="13.1" lengthAdjust="spacingAndGlyphs">15</text>
<text x="519.95" y="591.5" font-size="11.5" fill="#131722" textLength="12.5" lengthAdjust="spacingAndGlyphs">16</text>
<text x="656.9499999999999" y="591.5" font-size="11.5" fill="#131722" font-weight="700" textLength="13.7" lengthAdjust="spacingAndGlyphs">17</text>
<text x="794.85" y="591.5" font-size="11.5" fill="#131722" textLength="13.1" lengthAdjust="spacingAndGlyphs">18</text>
<svg x="5" y="573" width="937" height="27" overflow="hidden"><text x="927.9" y="18.5" font-size="11.5" fill="#131722" textLength="13.1" lengthAdjust="spacingAndGlyphs">19</text></svg>
<path d="M975.9,586.9 L978.9,581.6 H986.1 L989.3,586.9 L986.1,592.3 H978.9 Z" fill="none" stroke="#131722" stroke-width="1" stroke-linejoin="round"/>
<circle cx="982.5" cy="587.05" r="2.1" fill="none" stroke="#131722" stroke-width="1"/>
<g transform="translate(16.1,542.1) scale(0.794)" fill="#0d0d0f" stroke="#fff" stroke-width="2.5" paint-order="stroke" stroke-linejoin="round"><path d="M14 22H7V11H0V4h14v18zM28 22h-8l7.5-18h8L28 22z"/><circle cx="20.5" cy="6.9" r="2.8"/></g>
<text x="52.3" y="559.1" font-size="18.9" font-weight="700" fill="#0d0d0f" stroke="#fff" stroke-width="2" paint-order="stroke" stroke-linejoin="round" textLength="115" lengthAdjust="spacingAndGlyphs">TradingView</text>
<circle cx="881.5" cy="561" r="9.4" fill="#fff" stroke="#9c27b0" stroke-width="1.4"/>
<path d="M884.2,556.6 L878.5,561.5 L884.6,561.1 L879,565.6" fill="none" stroke="#9c27b0" stroke-width="1.6" stroke-linecap="round" stroke-linejoin="round"/>
</svg></body></html>
